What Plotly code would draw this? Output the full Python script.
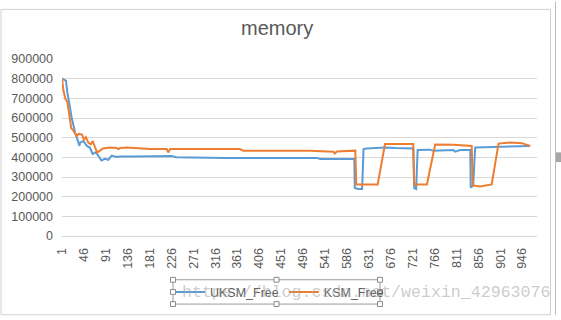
import plotly.graph_objects as go

# ---------------- data ----------------
title_text = "memory"
series_names = ["UKSM_Free", "KSM_Free"]

uksm_x = [1, 9, 12, 16, 21, 28, 31, 37, 38, 45, 52, 58, 64, 69, 73, 78, 82, 89, 96,
          100, 103, 113, 120, 147, 182, 216, 226, 236, 284, 319, 336, 346, 360, 407,
          414, 462, 524, 531, 599, 601, 602, 609, 617, 620, 626, 664, 685, 719, 722,
          724, 728, 731, 756, 763, 804, 808, 818, 839, 840, 845, 849, 851, 897, 928, 962]
uksm_y = [800000, 790000, 730000, 673000, 600000, 525000, 500000, 458000, 475000, 483000,
          458000, 450000, 417000, 425000, 417000, 400000, 384000, 392000, 387000,
          400000, 409000, 402000, 404000, 404000, 405000, 405000, 407000, 400000,
          400000, 400000, 397000, 396000, 396000, 398000, 396000, 396000, 397000,
          391000, 391000, 391000, 244000, 239000, 239000, 442000, 445000, 450000,
          447000, 445000, 445000, 244000, 239000, 437000, 439000, 434000, 437000,
          429000, 437000, 437000, 247000, 256000, 450000, 450000, 453000, 455000, 458000]

ksm_x = [1, 4, 8, 12, 16, 20, 25, 31, 35, 42, 46, 50, 55, 60, 64, 69, 73, 79, 85,
         100, 113, 117, 120, 134, 154, 182, 216, 219, 223, 284, 325, 346, 366, 373,
         507, 510, 558, 561, 565, 599, 603, 605, 649, 664, 722, 724, 750, 767, 804,
         842, 844, 859, 883, 897, 921, 945, 955, 962]
ksm_y = [800000, 738000, 697000, 681000, 615000, 549000, 533000, 508000, 519000, 516000,
         491000, 503000, 475000, 466000, 483000, 450000, 425000, 434000, 445000,
         450000, 447000, 442000, 447000, 450000, 447000, 442000, 442000, 425000,
         442000, 442000, 439000, 442000, 442000, 434000, 437000, 434000, 429000,
         420000, 430000, 434000, 434000, 262000, 262000, 468000, 468000, 262000,
         262000, 465000, 464000, 458000, 257000, 252000, 262000, 470000, 475000,
         472000, 463000, 458000]

x_tick_vals = [1, 46, 91, 136, 181, 226, 271, 316, 361, 406, 451, 496, 541, 586,
               631, 676, 721, 766, 811, 856, 901, 946]
x_tick_text = ["1", "46", "91", "136", "181", "226", "271", "316", "361", "406", "451",
               "496", "541", "586", "631", "676", "721", "766", "811", "856", "901", "946"]
y_tick_vals = [0, 100000, 200000, 300000, 400000, 500000, 600000, 700000, 800000, 900000]
y_tick_text = ["0", "100000", "200000", "300000", "400000", "500000", "600000",
               "700000", "800000", "900000"]
watermark = "https://blog.csdn.net/weixin_42963076"

# ---------------- layout helpers ----------------
W, H = 561, 320
L, R, T, B = 62, 537, 59, 241
PW, PH = R - L, B - T


def px(x):
    return (x - L) / PW


def py(y):
    return (B - y) / PH


GRAY_TXT = "#595959"
FONT = "Liberation Sans"

fig = go.Figure()
fig.add_trace(go.Scatter(x=uksm_x, y=uksm_y, mode="lines", name=series_names[0],
                         line=dict(color="#5B9BD5", width=2)))
fig.add_trace(go.Scatter(x=ksm_x, y=ksm_y, mode="lines", name=series_names[1],
                         line=dict(color="#ED7D31", width=2)))

shapes = []
# chart border
shapes.append(dict(type="rect", xref="paper", yref="paper",
                   x0=px(1), x1=px(550.5), y0=py(322), y1=py(8),
                   line=dict(color="#d0d0d0", width=1), fillcolor="rgba(0,0,0,0)", layer="below"))
# right-side sheet strip
shapes.append(dict(type="line", xref="paper", yref="paper",
                   x0=px(555.5), x1=px(555.5), y0=py(322), y1=py(0),
                   line=dict(color="#bdbdbd", width=1)))
shapes.append(dict(type="rect", xref="paper", yref="paper",
                   x0=px(556), x1=px(561), y0=py(165), y1=py(155),
                   line=dict(width=0), fillcolor="#a6a6a6"))
# legend selection box
shapes.append(dict(type="rect", xref="paper", yref="paper",
                   x0=px(173), x1=px(380), y0=py(311), y1=py(286),
                   line=dict(color="#9a9a9a", width=1), fillcolor="rgba(0,0,0,0)"))
for hx in (173, 276.5, 380):
    for hy in (286, 298.5, 311):
        if hx == 276.5 and hy == 298.5:
            continue
        shapes.append(dict(type="rect", xref="paper", yref="paper",
                           x0=px(hx - 2.5), x1=px(hx + 2.5), y0=py(hy + 2.5), y1=py(hy - 2.5),
                           line=dict(color="#8a8a8a", width=1), fillcolor="white"))

annotations = [
    dict(text=title_text, xref="paper", yref="paper", x=px(276.5), y=py(27),
         xanchor="center", yanchor="middle", showarrow=False,
         font=dict(family=FONT, size=20, color=GRAY_TXT)),
    dict(text=watermark, xref="paper", yref="paper", x=px(180), y=py(299.5),
         xanchor="left", yanchor="middle", showarrow=False,
         font=dict(family="Liberation Mono", size=16.6, color="rgba(170,170,170,0.6)")),
]

fig.update_layout(
    width=W, height=H,
    margin=dict(l=L, r=W - R, t=T, b=H - B, pad=0),
    paper_bgcolor="white", plot_bgcolor="white",
    showlegend=True,
    legend=dict(orientation="h", x=px(170), y=py(299), xanchor="left", yanchor="middle",
                font=dict(family=FONT, size=12.5, color=GRAY_TXT),
                bgcolor="rgba(0,0,0,0)", itemwidth=30, tracegroupgap=0),
    shapes=shapes,
    annotations=annotations,
    font=dict(family=FONT, size=12.5, color=GRAY_TXT),
)
fig.update_xaxes(range=[1, 976], tickmode="array", tickvals=x_tick_vals, ticktext=x_tick_text,
                 tickangle=-90, showgrid=False, zeroline=False, showline=True,
                 linecolor="#d9d9d9", linewidth=1, ticks="", ticklabelstandoff=6,
                 tickfont=dict(family=FONT, size=12.5, color=GRAY_TXT))
fig.update_yaxes(range=[0, 900000], tickmode="array", tickvals=y_tick_vals, ticktext=y_tick_text,
                 showgrid=True, gridcolor="#d9d9d9", gridwidth=1, zeroline=False,
                 showline=False, ticks="", ticklabelstandoff=8,
                 tickfont=dict(family=FONT, size=12.5, color=GRAY_TXT))

fig.write_html("out.html")
